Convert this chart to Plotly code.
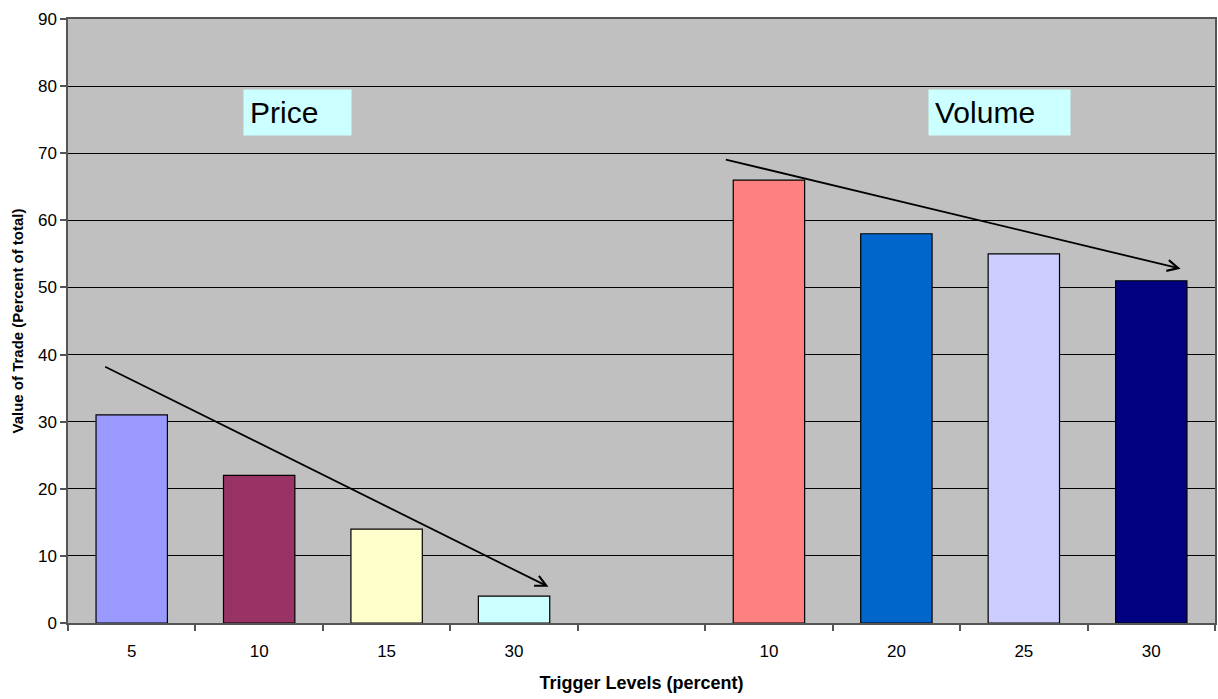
import plotly.graph_objects as go

# Trigger levels: price group, an empty spacer slot, then volume group
tick_labels = ["5", "10", "15", "30", "", "10", "20", "25", "30"]
values = [31, 22, 14, 4, None, 66, 58, 55, 51]
bar_colors = ["#9999FF", "#993366", "#FFFFCC", "#CCFFFF", "#C0C0C0",
              "#FF8080", "#0066CC", "#CCCCFF", "#000080"]

# Trend arrows (data coordinates: start x, start y, end x, end y)
price_trend = [-0.22, 38.3, 3.27, 5.4]
volume_trend = [4.65, 69.1, 8.23, 52.8]

positions = list(range(len(tick_labels)))

fig = go.Figure()
fig.add_trace(go.Bar(
    x=positions,
    y=values,
    marker=dict(color=bar_colors, line=dict(color="#000000", width=1.2)),
    hoverinfo="skip",
))

font_family = "Liberation Sans, Arial, sans-serif"

for sx, sy, ex, ey in (price_trend, volume_trend):
    fig.add_annotation(
        x=ex, y=ey, ax=sx, ay=sy,
        xref="x", yref="y", axref="x", ayref="y",
        showarrow=True, arrowhead=5, arrowsize=1.2, arrowwidth=1.8,
        arrowcolor="#000000", text="",
    )

# Group labels in light cyan boxes
for label, x, box_w in (("Price", 0.87, 95), ("Volume", 6.25, 129)):
    fig.add_annotation(
        x=x, y=76, xref="x", yref="y", text=label, showarrow=False,
        xanchor="left", yanchor="middle", align="left", width=box_w,
        font=dict(family=font_family, size=30, color="#000000"),
        bgcolor="#CCFFFF", borderpad=6,
    )

fig.update_layout(
    width=1218, height=699,
    margin=dict(l=68, r=1, t=19, b=76),
    paper_bgcolor="#FFFFFF",
    plot_bgcolor="#C0C0C0",
    bargap=0.44,
    showlegend=False,
    font=dict(family=font_family, size=17, color="#000000"),
    xaxis=dict(
        range=[-0.5, 8.5],
        tickmode="array", tickvals=positions, ticktext=tick_labels,
        ticks="", ticklabelstandoff=12, showgrid=False, zeroline=False,
        showline=True, linecolor="#555555", linewidth=1.5, mirror=True,
        minor=dict(tickmode="linear", tick0=-0.5, dtick=1, ticks="outside",
                   ticklen=6, tickcolor="#555555", tickwidth=1.5, showgrid=False),
        tickfont=dict(size=17),
        title=dict(text="<b>Trigger Levels (percent)</b>", font=dict(size=18), standoff=16),
    ),
    yaxis=dict(
        range=[0, 90], dtick=10,
        ticks="outside", ticklen=6, tickcolor="#555555", tickwidth=1.5,
        showgrid=True, gridcolor="#000000", gridwidth=1,
        zeroline=False,
        showline=True, linecolor="#555555", linewidth=1.5, mirror=True,
        tickfont=dict(size=17),
        title=dict(text="<b>Value of Trade (Percent of total)</b>", font=dict(size=15), standoff=11),
    ),
)

fig.write_html("out.html")
